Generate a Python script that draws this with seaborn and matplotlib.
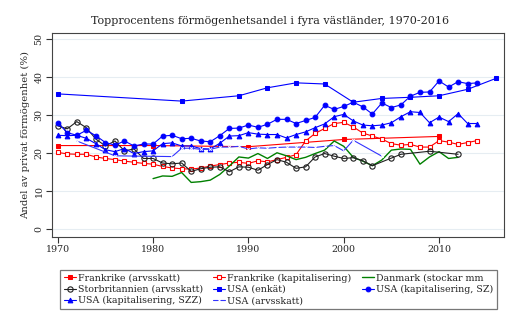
import numpy as np
import pandas as pd
import matplotlib
matplotlib.use("Agg")
import matplotlib.pyplot as plt
import seaborn as sns

# ---------------- data ----------------
fr_arv_years = [1970, 1980, 1990, 2000, 2010]
fr_arv_vals = [22.0, 22.0, 21.7, 23.6, 24.4]

fr_kap_years = list(range(1970, 2015))
fr_kap_vals = [20.2, 19.8, 19.7, 19.7, 19.0, 18.6, 18.3, 17.9, 17.6, 17.3,
               17.1, 16.5, 16.1, 15.9, 15.8, 16.1, 16.6, 17.0, 17.4, 17.6,
               17.3, 18.0, 17.7, 18.3, 18.9, 19.6, 23.2, 25.2, 26.5, 27.8,
               28.1, 26.9, 25.3, 24.5, 23.7, 22.5, 22.1, 22.3, 21.6, 21.6,
               23.3, 22.9, 22.3, 22.8, 23.3]

dk_years = list(range(1980, 2013))
dk_vals = [13.3, 14.0, 13.9, 14.9, 12.3, 12.5, 12.9, 14.4, 16.6, 19.0,
           18.7, 19.9, 18.6, 20.1, 19.3, 18.3, 18.9, 19.9, 20.8, 23.2,
           21.8, 18.9, 17.9, 16.7, 18.2, 20.8, 21.1, 21.0, 17.1, 19.0,
           20.4, 18.6, 18.9]

uk_years = list(range(1970, 2004)) + [2005, 2006, 2009, 2012]
uk_vals = [27.2, 26.4, 28.3, 26.7, 23.7, 21.9, 23.2, 20.6, 21.1, 18.6,
           18.6, 17.4, 17.2, 17.4, 15.2, 15.9, 16.3, 16.4, 15.1, 16.4,
           16.3, 15.5, 17.0, 18.3, 17.6, 16.0, 16.4, 19.0, 19.9, 19.2,
           18.6, 18.8, 18.0, 16.7, 18.7, 19.7, 20.5, 19.7]

us_enk_years = [1970, 1983, 1989, 1992, 1995, 1998, 2001, 2004, 2007, 2010, 2013, 2016]
us_enk_vals = [35.6, 33.7, 35.1, 37.2, 38.5, 38.2, 33.4, 34.4, 34.7, 35.1, 36.8, 39.7]

us_sz_years = list(range(1970, 2015))
us_sz_vals = [28.0, 25.4, 24.7, 26.0, 24.6, 22.8, 22.1, 23.2, 21.9, 22.4,
              22.4, 24.5, 24.7, 23.8, 23.9, 23.2, 23.0, 24.6, 26.5, 26.6,
              27.4, 26.8, 27.6, 28.9, 28.9, 27.8, 28.6, 29.4, 32.6, 31.5,
              32.3, 33.4, 32.2, 30.3, 33.2, 32.0, 32.7, 35.0, 36.0, 36.1,
              39.0, 37.4, 38.8, 38.3, 38.5]

us_szz_years = list(range(1970, 2015))
us_szz_vals = [24.7, 24.6, 24.7, 23.9, 22.5, 20.9, 20.4, 21.2, 19.9, 20.4,
               20.6, 22.5, 22.7, 21.9, 21.9, 21.2, 21.1, 22.6, 24.5, 24.6,
               25.4, 25.0, 24.9, 24.9, 24.0, 24.9, 25.6, 26.7, 27.7, 29.6,
               30.2, 28.5, 27.4, 27.2, 27.4, 28.0, 29.6, 30.9, 30.7, 28.0,
               29.5, 28.3, 30.4, 27.8, 27.8]

us_arv_years = [1972, 1976, 1982] + list(range(1983, 2002)) + [2004]
us_arv_vals = [23.2, 19.3, 19.1, 21.3, 21.3, 21.0, 21.0, 21.6, 21.6, 21.8,
               21.1, 21.4, 21.3, 21.5, 21.6, 21.6, 21.6, 21.5, 21.8, 22.0,
               20.6, 23.4, 19.2]

title = "Topprocentens förmögenhetsandel i fyra västländer, 1970-2016"
ylabel = "Andel av privat förmögenhet (%)"
x_ticks = [1970, 1980, 1990, 2000, 2010]
y_ticks = [0, 10, 20, 30, 40, 50]

# ---------------- style ----------------
sns.set_theme(style="white")
plt.rcParams["font.family"] = ["DejaVu Serif"]

fig = plt.figure(figsize=(5.2, 3.34), dpi=100)
ax = fig.add_axes([0.100, 0.290, 0.869, 0.611])

BLUE = "#0000ff"
RED = "#ff0000"
GREEN = "#008000"
MS = 3.4

series = [
    ("Frankrike (arvsskatt)", fr_arv_years, fr_arv_vals,
     dict(color=RED, marker="s", markersize=MS, markerfacecolor=RED, markeredgecolor=RED, lw=0.8)),
    ("Frankrike (kapitalisering)", fr_kap_years, fr_kap_vals,
     dict(color=RED, marker="s", markersize=MS, markerfacecolor="white", markeredgecolor=RED, markeredgewidth=0.8, lw=0.8)),
    ("Danmark (stockar mm", dk_years, dk_vals,
     dict(color=GREEN, lw=1.0)),
    ("Storbritannien (arvsskatt)", uk_years, uk_vals,
     dict(color="#202020", marker="o", markersize=MS + 0.4, markerfacecolor="none", markeredgecolor="#202020", markeredgewidth=0.8, lw=0.8)),
    ("USA (enkät)", us_enk_years, us_enk_vals,
     dict(color=BLUE, marker="s", markersize=MS, markerfacecolor=BLUE, markeredgecolor=BLUE, lw=0.8)),
    ("USA (kapitalisering, SZ)", us_sz_years, us_sz_vals,
     dict(color=BLUE, marker="o", markersize=MS, markerfacecolor=BLUE, markeredgecolor=BLUE, lw=0.8)),
    ("USA (kapitalisering, SZZ)", us_szz_years, us_szz_vals,
     dict(color=BLUE, marker="^", markersize=MS, markerfacecolor=BLUE, markeredgecolor=BLUE, lw=0.8)),
    ("USA (arvsskatt)", us_arv_years, us_arv_vals,
     dict(color="#3333ff", marker="x", markersize=1.8, markeredgewidth=0.7, lw=0.8)),
]

for name, xs, ys, kw in series:
    df = pd.DataFrame({"year": xs, "value": ys})
    sns.lineplot(data=df, x="year", y="value", ax=ax, label=name, sort=False, **kw)

ax.set_xlim(1969.4, 2016.8)
ax.set_ylim(-2.1, 51.6)
ax.set_xticks(x_ticks)
ax.set_yticks(y_ticks)
ax.set_xticklabels([str(t) for t in x_ticks], fontsize=6.8)
ax.set_yticklabels([str(t) for t in y_ticks], fontsize=6.8, rotation=90, va="center")
ax.tick_params(axis="both", direction="out", length=4, width=0.8, color="#333333",
               left=True, bottom=True, pad=2)
ax.set_xlabel("")
ax.set_ylabel(ylabel, fontsize=7.3, labelpad=3)
ax.grid(axis="y", color="#e6edf2", lw=0.8)
ax.set_axisbelow(True)
for s in ax.spines.values():
    s.set_color("#444444")
    s.set_linewidth(0.8)

fig.text(0.52, 0.937, title, ha="center", va="center", fontsize=8.0)

handles, labels = ax.get_legend_handles_labels()
ax.get_legend().remove()
order = [0, 3, 6, 1, 4, 7, 2, 5]
leg = fig.legend([handles[i] for i in order], [labels[i] for i in order],
                 ncol=3, loc="lower left", bbox_to_anchor=(0.106, 0.06, 0.859, 0.14),
                 mode="expand", fontsize=6.8, frameon=True, fancybox=False,
                 handlelength=1.3, handletextpad=0.2, columnspacing=0.8,
                 labelspacing=0.25, borderpad=0.4)
leg.get_frame().set_edgecolor("#555555")
leg.get_frame().set_linewidth(0.9)

fig.savefig("out.png", dpi=100)
